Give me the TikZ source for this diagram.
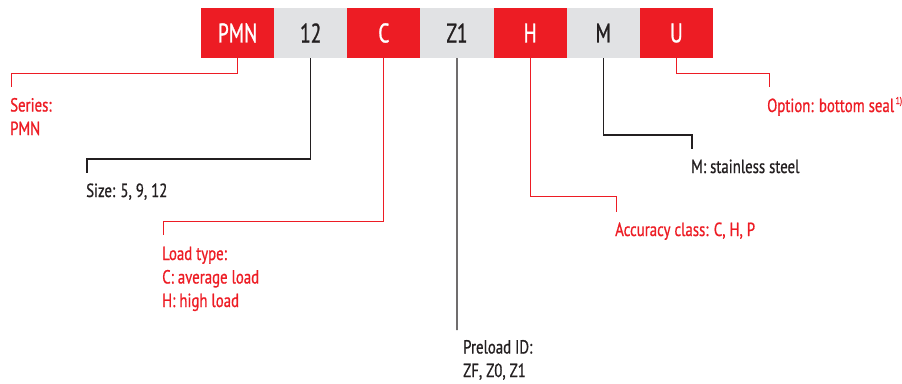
\documentclass[tikz,border=0pt]{standalone}
\usepackage{fontspec}
\setmainfont{PT Sans}[FakeStretch=0.78,FakeBold=0.8]
\newfontfamily\boxfont{PT Sans}[FakeStretch=0.72,FakeBold=1]
\definecolor{fagred}{HTML}{ED1C24}
\definecolor{faggray}{HTML}{E1E2E4}
\definecolor{fagdark}{HTML}{231F20}
\begin{document}
\begin{tikzpicture}[x=1pt,y=-1pt,
  redbox/.style={fill=fagred,text=white,minimum width=73.14pt,minimum height=50pt,inner sep=0pt,font=\boxfont\fontsize{27}{27}\selectfont},
  graybox/.style={fill=faggray,text=fagdark,minimum width=73.14pt,minimum height=50pt,inner sep=0pt,font=\boxfont\fontsize{27}{27}\selectfont},
  redline/.style={draw=fagred,line width=1pt},
  darkline/.style={draw=fagdark,line width=1.1pt},
  lbl/.style={anchor=base west,inner sep=0pt,align=left,font=\fontsize{19}{23.5}\selectfont},
  redlbl/.style={lbl,text=fagred},
  darklbl/.style={lbl,text=fagdark}]
\useasboundingbox (0,0) rectangle (902,383);
\node[redbox]  (b1) at (237.57,33) {PMN};
\node[graybox] (b2) at (310.71,33) {12};
\node[redbox]  (b3) at (383.85,33) {C};
\node[graybox] (b4) at (456.99,33) {Z1};
\node[redbox]  (b5) at (530.13,33) {H};
\node[graybox] (b6) at (603.27,33) {M};
\node[redbox]  (b7) at (676.41,33) {U};
% labels (base = baseline of last line)
\node[redlbl]  (t1) at (10,135) {Series:\\PMN};
\node[darklbl] (t2) at (86,197) {Size: 5, 9, 12};
\node[redlbl]  (t3) at (162,307) {Load type:\\C: average load\\H: high load};
\node[darklbl] (t4) at (463,377) {Preload ID:\\ZF, Z0, Z1};
\node[redlbl]  (t5) at (615,236) {Accuracy class: C, H, P};
\node[darklbl] (t6) at (691,173) {M: stainless steel};
\node[redlbl]  (t7) at (767,112) {Option: bottom seal\kern1.5pt\raisebox{0.42em}{\fontsize{10}{10}\selectfont 1)}};
% connector ends
\coordinate (e1) at (11,87);
\coordinate (e2) at (87,173);
\coordinate (e3) at (163,235);
\coordinate (e4) at (457,330);
\coordinate (e5) at (616,212);
\coordinate (e6) at (692,149);
\coordinate (e7) at (769,87);
\draw[redline]  (b1.south) -- (b1.south |- 0,73)  -| (e1);
\draw[darkline] (b2.south) -- (b2.south |- 0,159) -| (e2);
\draw[redline]  (b3.south) -- (b3.south |- 0,221) -| (e3);
\draw[darkline] (b4.south) -- (e4);
\draw[redline]  (b5.south) -- (b5.south |- 0,196) -| (e5);
\draw[darkline] (b6.south) -- (b6.south |- 0,135) -| (e6);
\draw[redline]  (b7.south) -- (b7.south |- 0,73)  -| (e7);
\end{tikzpicture}
\end{document}
